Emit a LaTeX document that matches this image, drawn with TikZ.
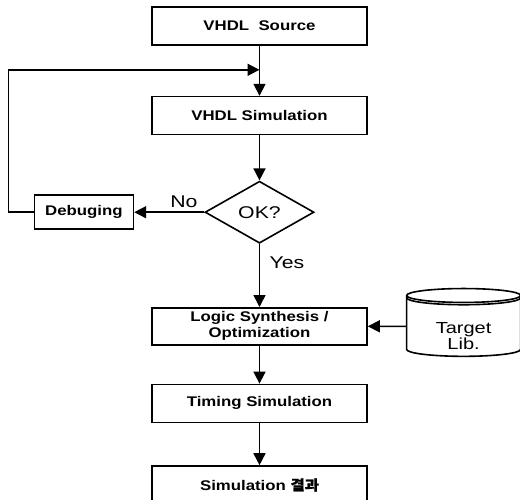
\documentclass[tikz,border=0pt]{standalone}
\usepackage{fontspec}
\usepackage{tikz}
\usetikzlibrary{arrows.meta,shapes.geometric,positioning,calc}
\newfontfamily\boxfont{Liberation Sans}[FakeStretch=1.2]
\newfontfamily\lblfont{Liberation Sans}[FakeStretch=1.25]
\newfontfamily\cjk{Noto Sans CJK KR}[FakeBold=1.2,FakeStretch=1.1]

\tikzset{
    stage/.style={draw, line width=1.6pt, minimum width=215pt, minimum height=38pt,
        inner sep=2pt, align=center, font=\boxfont\bfseries\fontsize{14}{16}\selectfont},
    decide/.style={draw, diamond, line width=1.6pt, minimum width=109pt, minimum height=62pt,
        inner sep=0pt, font=\lblfont\fontsize{17}{19}\selectfont},
    libstore/.style={draw, cylinder, shape border rotate=90, aspect=0.25, line width=1.6pt,
        minimum width=114pt, minimum height=58pt, align=center, inner sep=0pt,
        font=\lblfont\fontsize{16}{16}\selectfont},
    lbl/.style={font=\lblfont\fontsize{17}{19}\selectfont},
    flow/.style={line width=1.6pt, -{Triangle[length=12pt,width=12pt]}}
}

\begin{document}
\begin{tikzpicture}
    \useasboundingbox (0,0) rectangle (520pt,-499pt);

    \node[stage] (src) at (259.5pt,-26pt) {VHDL~~Source};
    \node[stage, below=50pt of src] (sim) {VHDL Simulation};
    \node[decide, below=45pt of sim] (ok) {OK?};
    \node[stage, minimum width=99pt, minimum height=34pt, left=70pt of ok] (dbg) {Debuging};
    \node[stage, minimum height=37pt, below=63pt of ok] (synth) {Logic Synthesis /\\Optimization};
    \node[libstore, right=38pt of synth] (lib) {\\[14pt]Target\\Lib.};
    \node[stage, below=38pt of synth] (timing) {Timing Simulation};
    \node[stage, below=42pt of timing] (result) {Simulation {\cjk 결과}};

    % loop back
    \coordinate (join) at ($(src.south)!0.48!(sim.north)$);
    \draw[line width=1.6pt] ($(lib.north)+(-57pt,-10pt)$) arc[start angle=180, end angle=360, x radius=57pt, y radius=7pt];

    \draw[flow] (src) -- (sim);
    \draw[flow] (sim) -- (ok);
    \draw[flow] (ok.west) -- node[lbl, above, pos=0.29] {No} (dbg.east);
    \draw[flow] (dbg.west) -- ++(-25pt,0) |- (join);
    \draw[flow] (ok.south) -- node[lbl, right, pos=0.29, xshift=6pt] {Yes} (synth.north);
    \draw[flow] (lib) -- (synth);
    \draw[flow] (synth) -- (timing);
    \draw[flow] (timing) -- (result);
\end{tikzpicture}
\end{document}
